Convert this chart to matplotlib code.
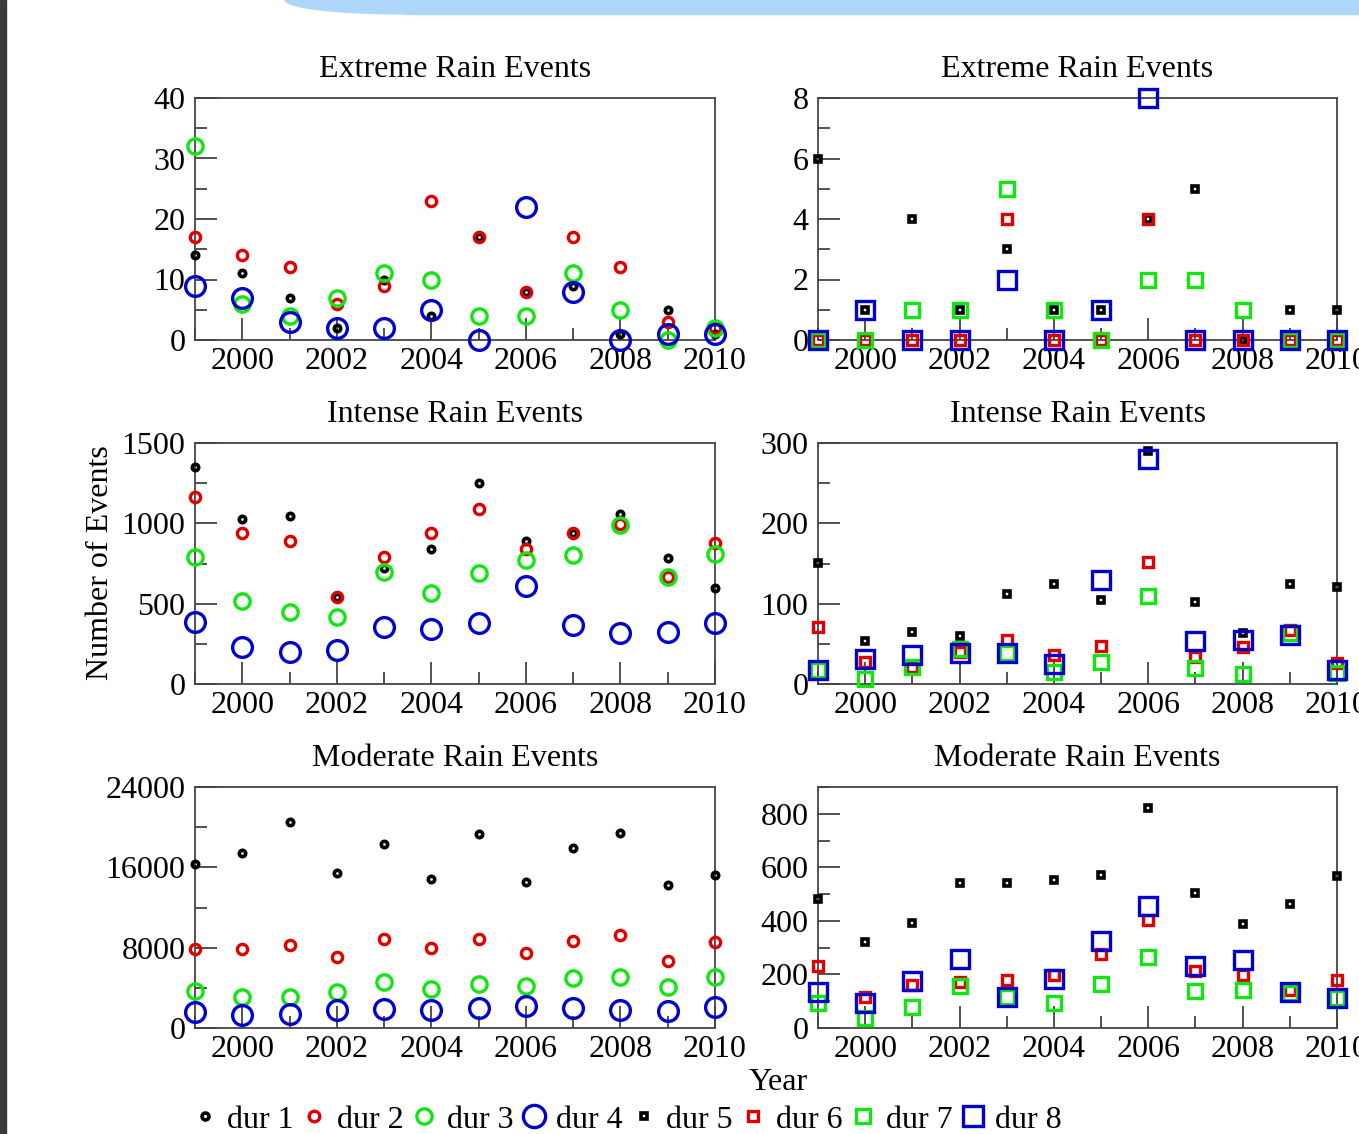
import numpy as np
import matplotlib
matplotlib.use("Agg")
import matplotlib.pyplot as plt
from matplotlib.lines import Line2D
from matplotlib.patches import Ellipse, Rectangle
from matplotlib.ticker import MultipleLocator

plt.rcParams['font.family'] = ['Liberation Serif', 'DejaVu Serif']

years = np.arange(1999, 2011)

# Extreme rain events, durations 1-4 (left) and 5-8 (right)
ext_d1 = [14, 11, 7, 2, 10, 4, 17, 8, 9, 1, 5, 1]
ext_d2 = [17, 14, 12, 6, 9, 23, 17, 8, 17, 12, 3, 2]
ext_d3 = [32, 6, 4, 7, 11, 10, 4, 4, 11, 5, 0, 2]
ext_d4 = [9, 7, 3, 2, 2, 5, 0, 22, 8, 0, 1, 1]
ext_d5 = [6, 1, 4, 1, 3, 1, 1, 4, 5, 0, 1, 1]
ext_d6 = [0, 0, 0, 0, 4, 0, 0, 4, 0, 0, 0, 0]
ext_d7 = [0, 0, 1, 1, 5, 1, 0, 2, 2, 1, 0, 0]
ext_d8 = [0, 1, 0, 0, 2, 0, 1, 8, 0, 0, 0, 0]

# Intense rain events
int_d1 = [1350, 1030, 1045, 540, 720, 840, 1250, 890, 940, 1060, 785, 600]
int_d2 = [1165, 938, 892, 544, 793, 942, 1089, 840, 938, 994, 668, 876]
int_d3 = [793, 519, 450, 415, 699, 568, 693, 772, 803, 990, 668, 809]
int_d4 = [388, 232, 197, 212, 353, 342, 378, 610, 367, 315, 326, 378]
int_d5 = [151, 54, 65, 60, 112, 124, 104, 290, 102, 64, 124, 121]
int_d6 = [71, 28, 21, 40, 55, 36, 47, 152, 34, 46, 67, 26]
int_d7 = [17, 6, 21, 44, 39, 15, 27, 110, 20, 13, 64, 14]
int_d8 = [18, 31, 36, 39, 39, 25, 129, 280, 54, 55, 61, 18]

# Moderate rain events
mod_d1 = [16300, 17450, 20550, 15470, 18320, 14800, 19290, 14570, 17900, 19390, 14240, 15270]
mod_d2 = [7830, 7830, 8270, 7100, 8830, 7930, 8830, 7440, 8700, 9260, 6700, 8530]
mod_d3 = [3680, 3050, 3120, 3550, 4610, 3850, 4380, 4210, 4950, 5110, 4050, 5050]
mod_d4 = [1630, 1300, 1360, 1790, 1930, 1790, 1960, 2190, 1960, 1790, 1690, 2120]
mod_d5 = [482, 320, 391, 543, 543, 551, 572, 820, 506, 387, 462, 568]
mod_d6 = [233, 115, 161, 173, 179, 198, 277, 404, 211, 198, 142, 179]
mod_d7 = [95, 36, 77, 157, 117, 95, 164, 267, 140, 142, 130, 111]
mod_d8 = [133, 95, 177, 258, 117, 183, 325, 454, 233, 254, 133, 111]

labels = ['dur 1', 'dur 2', 'dur 3', 'dur 4', 'dur 5', 'dur 6', 'dur 7', 'dur 8']
colors = ['black', '#e00000', '#11e611', '#0000d0']
circle_ms = [4.6, 7.4, 11.0, 14.2]
square_ms = [4.8, 7.0, 10.0, 12.7]
mews = [2.6, 2.4, 2.4, 2.4]

fig = plt.figure(figsize=(13.59, 11.34), dpi=100)
W, H = 1359.0, 1134.0

# screenshot decorations
fig.patches.append(Rectangle((0, 0), 6 / W, 1, transform=fig.transFigure,
                             color='#3a3a3a', zorder=0))
fig.patches.append(Ellipse((405 / W, 1), 240 / W, 28 / H, transform=fig.transFigure,
                           color='#aed6fb', zorder=0))
fig.patches.append(Rectangle((405 / W, 1 - 14 / H), 1, 14 / H, transform=fig.transFigure,
                             color='#aed6fb', zorder=0))


def make_ax(x0, x1, ytop, ybot):
    return fig.add_axes([x0 / W, 1 - ybot / H, (x1 - x0) / W, (ybot - ytop) / H])


def style(ax, ymax, major, minor, title):
    ax.set_xlim(1999, 2010)
    ax.set_ylim(0, ymax)
    ax.xaxis.set_major_locator(MultipleLocator(2))
    ax.xaxis.set_minor_locator(MultipleLocator(1))
    ax.yaxis.set_major_locator(MultipleLocator(major))
    ax.yaxis.set_minor_locator(MultipleLocator(minor))
    ax.tick_params(which='both', direction='in', top=False, right=False,
                   width=1.2, color='#333333', labelsize=23)
    ax.tick_params(which='major', length=16)
    ax.tick_params(which='minor', length=8.5)
    ax.tick_params(axis='x', pad=5)
    ax.tick_params(axis='y', pad=7)
    for s in ax.spines.values():
        s.set_linewidth(1.3)
        s.set_color('#444444')
    ax.set_title(title, fontsize=23, pad=15)


def draw(ax, series, marker, sizes):
    for vals, c, ms, mw in zip(series, colors, sizes, mews):
        ax.plot(years, vals, ls='none', marker=marker, ms=ms, mec=c, mfc='none',
                mew=mw, clip_on=False, zorder=3)


lx0, lx1 = 195, 715
rx0, rx1 = 818, 1337
rows = [(98, 340), (443, 684), (787, 1028)]

ax = make_ax(lx0, lx1, *rows[0])
draw(ax, [ext_d1, ext_d2, ext_d3, ext_d4], 'o', circle_ms)
style(ax, 40, 10, 5, 'Extreme Rain Events')

ax = make_ax(rx0, rx1, *rows[0])
draw(ax, [ext_d5, ext_d6, ext_d7, ext_d8], 's', square_ms)
style(ax, 8, 2, 1, 'Extreme Rain Events')

ax = make_ax(lx0, lx1, *rows[1])
draw(ax, [int_d1, int_d2, int_d3, int_d4], 'o', circle_ms)
style(ax, 1500, 500, 250, 'Intense Rain Events')

ax = make_ax(rx0, rx1, *rows[1])
draw(ax, [int_d5, int_d6, int_d7, int_d8], 's', square_ms)
style(ax, 300, 100, 50, 'Intense Rain Events')

ax = make_ax(lx0, lx1, *rows[2])
draw(ax, [mod_d1, mod_d2, mod_d3, mod_d4], 'o', circle_ms)
style(ax, 24000, 8000, 4000, 'Moderate Rain Events')

ax = make_ax(rx0, rx1, *rows[2])
draw(ax, [mod_d5, mod_d6, mod_d7, mod_d8], 's', square_ms)
style(ax, 900, 200, 100, 'Moderate Rain Events')

fig.text(100 / W, 1 - 563 / H, 'Number of Events', rotation=90, fontsize=23,
         ha='center', va='center')
fig.text(778 / W, 1 - 1082 / H, 'Year', fontsize=23, ha='center', va='center')

leg_ms = [5.0, 7.6, 11.0, 16.0, 5.0, 7.0, 10.0, 14.0]
handles = []
for i in range(8):
    m = 'o' if i < 4 else 's'
    handles.append(Line2D([], [], ls='none', marker=m, ms=leg_ms[i], mec=colors[i % 4],
                          mfc='none', mew=mews[i % 4]))
fig.legend(handles, labels, loc='center', bbox_to_anchor=(627 / W, 1 - 1120 / H),
           ncol=8, frameon=False, fontsize=23, handlelength=0.8,
           handletextpad=0.3, columnspacing=0.25, borderpad=0)

fig.savefig('out.png', dpi=100)
